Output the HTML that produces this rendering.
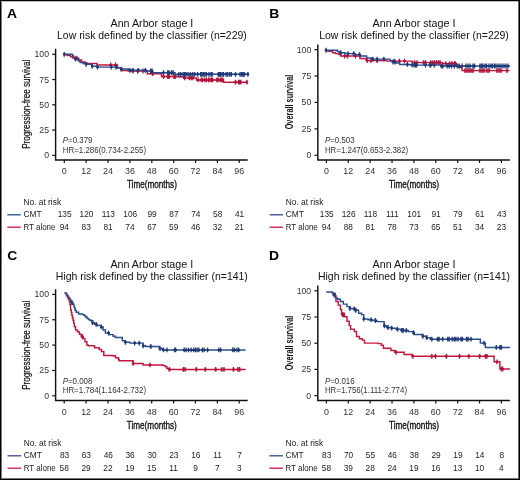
<!DOCTYPE html>
<html><head><meta charset="utf-8"><style>
html,body{margin:0;padding:0;background:#fff;}
#w{position:relative;width:520px;height:480px;overflow:hidden;background:#fff;}
svg{will-change:transform;position:absolute;left:0;top:0;font-family:"Liberation Sans", sans-serif;}
</style></head><body><div id="w">
<svg width="520" height="480" viewBox="0 0 520 480">
<rect x="0" y="0" width="520" height="480" fill="#fff"/>
<text transform="translate(7.00,18.00) scale(1.14,1)" font-size="12.2" text-anchor="start" font-weight="bold" fill="#000" >A</text>
<text transform="translate(151.90,26.60) scale(0.985,1)" font-size="10.9" text-anchor="middle" font-weight="normal" fill="#111" >Ann Arbor stage I</text>
<text transform="translate(151.90,38.80) scale(0.96,1)" font-size="10.9" text-anchor="middle" font-weight="normal" fill="#111" >Low risk defined by the classifier (n=229)</text>
<path d="M55.60,48.70V160.00H247.70" fill="none" stroke="#111" stroke-width="1.45"/>
<path d="M52.20,155.30H55.60" stroke="#111" stroke-width="1.2"/>
<text x="49.00" y="158.30" font-size="8.7" text-anchor="end" font-weight="normal" fill="#333" >0</text>
<path d="M52.20,130.05H55.60" stroke="#111" stroke-width="1.2"/>
<text x="49.00" y="133.05" font-size="8.7" text-anchor="end" font-weight="normal" fill="#333" >25</text>
<path d="M52.20,104.80H55.60" stroke="#111" stroke-width="1.2"/>
<text x="49.00" y="107.80" font-size="8.7" text-anchor="end" font-weight="normal" fill="#333" >50</text>
<path d="M52.20,79.55H55.60" stroke="#111" stroke-width="1.2"/>
<text x="49.00" y="82.55" font-size="8.7" text-anchor="end" font-weight="normal" fill="#333" >75</text>
<path d="M52.20,54.30H55.60" stroke="#111" stroke-width="1.2"/>
<text x="49.00" y="57.30" font-size="8.7" text-anchor="end" font-weight="normal" fill="#333" >100</text>
<path d="M64.30,160.00V163.00" stroke="#111" stroke-width="1.2"/>
<text x="64.30" y="174.10" font-size="8.9" text-anchor="middle" font-weight="normal" fill="#333" >0</text>
<path d="M86.18,160.00V163.00" stroke="#111" stroke-width="1.2"/>
<text x="86.18" y="174.10" font-size="8.9" text-anchor="middle" font-weight="normal" fill="#333" >12</text>
<path d="M108.05,160.00V163.00" stroke="#111" stroke-width="1.2"/>
<text x="108.05" y="174.10" font-size="8.9" text-anchor="middle" font-weight="normal" fill="#333" >24</text>
<path d="M129.93,160.00V163.00" stroke="#111" stroke-width="1.2"/>
<text x="129.93" y="174.10" font-size="8.9" text-anchor="middle" font-weight="normal" fill="#333" >36</text>
<path d="M151.80,160.00V163.00" stroke="#111" stroke-width="1.2"/>
<text x="151.80" y="174.10" font-size="8.9" text-anchor="middle" font-weight="normal" fill="#333" >48</text>
<path d="M173.68,160.00V163.00" stroke="#111" stroke-width="1.2"/>
<text x="173.68" y="174.10" font-size="8.9" text-anchor="middle" font-weight="normal" fill="#333" >60</text>
<path d="M195.56,160.00V163.00" stroke="#111" stroke-width="1.2"/>
<text x="195.56" y="174.10" font-size="8.9" text-anchor="middle" font-weight="normal" fill="#333" >72</text>
<path d="M217.43,160.00V163.00" stroke="#111" stroke-width="1.2"/>
<text x="217.43" y="174.10" font-size="8.9" text-anchor="middle" font-weight="normal" fill="#333" >84</text>
<path d="M239.31,160.00V163.00" stroke="#111" stroke-width="1.2"/>
<text x="239.31" y="174.10" font-size="8.9" text-anchor="middle" font-weight="normal" fill="#333" >96</text>
<text x="151.90" y="187.80" font-size="10.5" text-anchor="middle" font-weight="normal" fill="#111" textLength="50" lengthAdjust="spacingAndGlyphs" stroke="#111" stroke-width="0.35">Time(months)</text>
<text transform="translate(30.20,104.25) rotate(-90)" x="0" y="0" font-size="10.0" text-anchor="middle" fill="#111" stroke="#111" stroke-width="0.22" textLength="89" lengthAdjust="spacingAndGlyphs">Progression-free survival</text>
<text transform="translate(62.80,143.10) scale(0.9,1)" font-size="8.8" fill="#333"><tspan font-style="italic">P</tspan>=0.379</text>
<text transform="translate(62.80,152.50) scale(0.9,1)" font-size="8.8" text-anchor="start" font-weight="normal" fill="#333" >HR=1.286(0.734-2.255)</text>
<text x="23.40" y="204.70" font-size="8.4" text-anchor="start" font-weight="normal" fill="#222" >No. at risk</text>
<text x="23.40" y="217.20" font-size="8.4" text-anchor="start" font-weight="normal" fill="#222" >CMT</text>
<text transform="translate(23.40,229.70) scale(0.95,1)" font-size="8.4" text-anchor="start" font-weight="normal" fill="#222" >RT alone</text>
<path d="M7.30,214.80H20.80" stroke="#2c4c8a" stroke-width="1.3"/>
<path d="M7.30,227.20H20.80" stroke="#c2183e" stroke-width="1.3"/>
<text x="64.60" y="217.20" font-size="8.3" text-anchor="middle" font-weight="normal" fill="#222" >135</text>
<text x="64.30" y="229.70" font-size="8.3" text-anchor="middle" font-weight="normal" fill="#222" >94</text>
<text x="86.48" y="217.20" font-size="8.3" text-anchor="middle" font-weight="normal" fill="#222" >120</text>
<text x="86.18" y="229.70" font-size="8.3" text-anchor="middle" font-weight="normal" fill="#222" >83</text>
<text x="108.35" y="217.20" font-size="8.3" text-anchor="middle" font-weight="normal" fill="#222" >113</text>
<text x="108.05" y="229.70" font-size="8.3" text-anchor="middle" font-weight="normal" fill="#222" >81</text>
<text x="130.23" y="217.20" font-size="8.3" text-anchor="middle" font-weight="normal" fill="#222" >106</text>
<text x="129.93" y="229.70" font-size="8.3" text-anchor="middle" font-weight="normal" fill="#222" >74</text>
<text x="152.10" y="217.20" font-size="8.3" text-anchor="middle" font-weight="normal" fill="#222" >99</text>
<text x="151.80" y="229.70" font-size="8.3" text-anchor="middle" font-weight="normal" fill="#222" >67</text>
<text x="173.98" y="217.20" font-size="8.3" text-anchor="middle" font-weight="normal" fill="#222" >87</text>
<text x="173.68" y="229.70" font-size="8.3" text-anchor="middle" font-weight="normal" fill="#222" >59</text>
<text x="195.86" y="217.20" font-size="8.3" text-anchor="middle" font-weight="normal" fill="#222" >74</text>
<text x="195.56" y="229.70" font-size="8.3" text-anchor="middle" font-weight="normal" fill="#222" >46</text>
<text x="217.73" y="217.20" font-size="8.3" text-anchor="middle" font-weight="normal" fill="#222" >58</text>
<text x="217.43" y="229.70" font-size="8.3" text-anchor="middle" font-weight="normal" fill="#222" >32</text>
<text x="239.61" y="217.20" font-size="8.3" text-anchor="middle" font-weight="normal" fill="#222" >41</text>
<text x="239.31" y="229.70" font-size="8.3" text-anchor="middle" font-weight="normal" fill="#222" >21</text>
<text transform="translate(269.30,18.00) scale(1.14,1)" font-size="12.2" text-anchor="start" font-weight="bold" fill="#000" >B</text>
<text transform="translate(414.00,26.60) scale(0.985,1)" font-size="10.9" text-anchor="middle" font-weight="normal" fill="#111" >Ann Arbor stage I</text>
<text transform="translate(414.00,38.80) scale(0.96,1)" font-size="10.9" text-anchor="middle" font-weight="normal" fill="#111" >Low risk defined by the classifier (n=229)</text>
<path d="M317.85,44.50V160.00H509.90" fill="none" stroke="#111" stroke-width="1.45"/>
<path d="M314.45,155.30H317.85" stroke="#111" stroke-width="1.2"/>
<text x="311.25" y="158.30" font-size="8.7" text-anchor="end" font-weight="normal" fill="#333" >0</text>
<path d="M314.45,128.88H317.85" stroke="#111" stroke-width="1.2"/>
<text x="311.25" y="131.88" font-size="8.7" text-anchor="end" font-weight="normal" fill="#333" >25</text>
<path d="M314.45,102.45H317.85" stroke="#111" stroke-width="1.2"/>
<text x="311.25" y="105.45" font-size="8.7" text-anchor="end" font-weight="normal" fill="#333" >50</text>
<path d="M314.45,76.03H317.85" stroke="#111" stroke-width="1.2"/>
<text x="311.25" y="79.03" font-size="8.7" text-anchor="end" font-weight="normal" fill="#333" >75</text>
<path d="M314.45,49.60H317.85" stroke="#111" stroke-width="1.2"/>
<text x="311.25" y="52.60" font-size="8.7" text-anchor="end" font-weight="normal" fill="#333" >100</text>
<path d="M326.40,160.00V163.00" stroke="#111" stroke-width="1.2"/>
<text x="326.40" y="174.10" font-size="8.9" text-anchor="middle" font-weight="normal" fill="#333" >0</text>
<path d="M348.28,160.00V163.00" stroke="#111" stroke-width="1.2"/>
<text x="348.28" y="174.10" font-size="8.9" text-anchor="middle" font-weight="normal" fill="#333" >12</text>
<path d="M370.15,160.00V163.00" stroke="#111" stroke-width="1.2"/>
<text x="370.15" y="174.10" font-size="8.9" text-anchor="middle" font-weight="normal" fill="#333" >24</text>
<path d="M392.03,160.00V163.00" stroke="#111" stroke-width="1.2"/>
<text x="392.03" y="174.10" font-size="8.9" text-anchor="middle" font-weight="normal" fill="#333" >36</text>
<path d="M413.90,160.00V163.00" stroke="#111" stroke-width="1.2"/>
<text x="413.90" y="174.10" font-size="8.9" text-anchor="middle" font-weight="normal" fill="#333" >48</text>
<path d="M435.78,160.00V163.00" stroke="#111" stroke-width="1.2"/>
<text x="435.78" y="174.10" font-size="8.9" text-anchor="middle" font-weight="normal" fill="#333" >60</text>
<path d="M457.66,160.00V163.00" stroke="#111" stroke-width="1.2"/>
<text x="457.66" y="174.10" font-size="8.9" text-anchor="middle" font-weight="normal" fill="#333" >72</text>
<path d="M479.53,160.00V163.00" stroke="#111" stroke-width="1.2"/>
<text x="479.53" y="174.10" font-size="8.9" text-anchor="middle" font-weight="normal" fill="#333" >84</text>
<path d="M501.41,160.00V163.00" stroke="#111" stroke-width="1.2"/>
<text x="501.41" y="174.10" font-size="8.9" text-anchor="middle" font-weight="normal" fill="#333" >96</text>
<text x="414.00" y="187.80" font-size="10.5" text-anchor="middle" font-weight="normal" fill="#111" textLength="50" lengthAdjust="spacingAndGlyphs" stroke="#111" stroke-width="0.35">Time(months)</text>
<text transform="translate(292.80,102.00) rotate(-90)" x="0" y="0" font-size="10.2" font-weight="bold" text-anchor="middle" fill="#111" textLength="54.7" lengthAdjust="spacingAndGlyphs">Overall survival</text>
<text transform="translate(324.90,143.10) scale(0.9,1)" font-size="8.8" fill="#333"><tspan font-style="italic">P</tspan>=0.503</text>
<text transform="translate(324.90,152.50) scale(0.9,1)" font-size="8.8" text-anchor="start" font-weight="normal" fill="#333" >HR=1.247(0.653-2.382)</text>
<text x="285.70" y="204.70" font-size="8.4" text-anchor="start" font-weight="normal" fill="#222" >No. at risk</text>
<text x="285.70" y="217.20" font-size="8.4" text-anchor="start" font-weight="normal" fill="#222" >CMT</text>
<text transform="translate(285.70,229.70) scale(0.95,1)" font-size="8.4" text-anchor="start" font-weight="normal" fill="#222" >RT alone</text>
<path d="M269.60,214.80H283.10" stroke="#2c4c8a" stroke-width="1.3"/>
<path d="M269.60,227.20H283.10" stroke="#c2183e" stroke-width="1.3"/>
<text x="326.70" y="217.20" font-size="8.3" text-anchor="middle" font-weight="normal" fill="#222" >135</text>
<text x="326.40" y="229.70" font-size="8.3" text-anchor="middle" font-weight="normal" fill="#222" >94</text>
<text x="348.58" y="217.20" font-size="8.3" text-anchor="middle" font-weight="normal" fill="#222" >126</text>
<text x="348.28" y="229.70" font-size="8.3" text-anchor="middle" font-weight="normal" fill="#222" >88</text>
<text x="370.45" y="217.20" font-size="8.3" text-anchor="middle" font-weight="normal" fill="#222" >118</text>
<text x="370.15" y="229.70" font-size="8.3" text-anchor="middle" font-weight="normal" fill="#222" >81</text>
<text x="392.33" y="217.20" font-size="8.3" text-anchor="middle" font-weight="normal" fill="#222" >111</text>
<text x="392.03" y="229.70" font-size="8.3" text-anchor="middle" font-weight="normal" fill="#222" >78</text>
<text x="414.20" y="217.20" font-size="8.3" text-anchor="middle" font-weight="normal" fill="#222" >101</text>
<text x="413.90" y="229.70" font-size="8.3" text-anchor="middle" font-weight="normal" fill="#222" >73</text>
<text x="436.08" y="217.20" font-size="8.3" text-anchor="middle" font-weight="normal" fill="#222" >91</text>
<text x="435.78" y="229.70" font-size="8.3" text-anchor="middle" font-weight="normal" fill="#222" >65</text>
<text x="457.96" y="217.20" font-size="8.3" text-anchor="middle" font-weight="normal" fill="#222" >79</text>
<text x="457.66" y="229.70" font-size="8.3" text-anchor="middle" font-weight="normal" fill="#222" >51</text>
<text x="479.83" y="217.20" font-size="8.3" text-anchor="middle" font-weight="normal" fill="#222" >61</text>
<text x="479.53" y="229.70" font-size="8.3" text-anchor="middle" font-weight="normal" fill="#222" >34</text>
<text x="501.71" y="217.20" font-size="8.3" text-anchor="middle" font-weight="normal" fill="#222" >43</text>
<text x="501.41" y="229.70" font-size="8.3" text-anchor="middle" font-weight="normal" fill="#222" >23</text>
<text transform="translate(7.30,260.20) scale(1.14,1)" font-size="12.2" text-anchor="start" font-weight="bold" fill="#000" >C</text>
<text transform="translate(151.80,267.60) scale(0.985,1)" font-size="10.9" text-anchor="middle" font-weight="normal" fill="#111" >Ann Arbor stage I</text>
<text transform="translate(151.80,279.80) scale(0.96,1)" font-size="10.9" text-anchor="middle" font-weight="normal" fill="#111" >High risk defined by the classifier (n=141)</text>
<path d="M55.60,289.20V400.50H247.70" fill="none" stroke="#111" stroke-width="1.45"/>
<path d="M52.20,395.80H55.60" stroke="#111" stroke-width="1.2"/>
<text x="49.00" y="398.80" font-size="8.7" text-anchor="end" font-weight="normal" fill="#333" >0</text>
<path d="M52.20,370.45H55.60" stroke="#111" stroke-width="1.2"/>
<text x="49.00" y="373.45" font-size="8.7" text-anchor="end" font-weight="normal" fill="#333" >25</text>
<path d="M52.20,345.10H55.60" stroke="#111" stroke-width="1.2"/>
<text x="49.00" y="348.10" font-size="8.7" text-anchor="end" font-weight="normal" fill="#333" >50</text>
<path d="M52.20,319.75H55.60" stroke="#111" stroke-width="1.2"/>
<text x="49.00" y="322.75" font-size="8.7" text-anchor="end" font-weight="normal" fill="#333" >75</text>
<path d="M52.20,294.40H55.60" stroke="#111" stroke-width="1.2"/>
<text x="49.00" y="297.40" font-size="8.7" text-anchor="end" font-weight="normal" fill="#333" >100</text>
<path d="M64.20,400.50V403.50" stroke="#111" stroke-width="1.2"/>
<text x="64.20" y="414.60" font-size="8.9" text-anchor="middle" font-weight="normal" fill="#333" >0</text>
<path d="M86.08,400.50V403.50" stroke="#111" stroke-width="1.2"/>
<text x="86.08" y="414.60" font-size="8.9" text-anchor="middle" font-weight="normal" fill="#333" >12</text>
<path d="M107.95,400.50V403.50" stroke="#111" stroke-width="1.2"/>
<text x="107.95" y="414.60" font-size="8.9" text-anchor="middle" font-weight="normal" fill="#333" >24</text>
<path d="M129.83,400.50V403.50" stroke="#111" stroke-width="1.2"/>
<text x="129.83" y="414.60" font-size="8.9" text-anchor="middle" font-weight="normal" fill="#333" >36</text>
<path d="M151.70,400.50V403.50" stroke="#111" stroke-width="1.2"/>
<text x="151.70" y="414.60" font-size="8.9" text-anchor="middle" font-weight="normal" fill="#333" >48</text>
<path d="M173.58,400.50V403.50" stroke="#111" stroke-width="1.2"/>
<text x="173.58" y="414.60" font-size="8.9" text-anchor="middle" font-weight="normal" fill="#333" >60</text>
<path d="M195.46,400.50V403.50" stroke="#111" stroke-width="1.2"/>
<text x="195.46" y="414.60" font-size="8.9" text-anchor="middle" font-weight="normal" fill="#333" >72</text>
<path d="M217.33,400.50V403.50" stroke="#111" stroke-width="1.2"/>
<text x="217.33" y="414.60" font-size="8.9" text-anchor="middle" font-weight="normal" fill="#333" >84</text>
<path d="M239.21,400.50V403.50" stroke="#111" stroke-width="1.2"/>
<text x="239.21" y="414.60" font-size="8.9" text-anchor="middle" font-weight="normal" fill="#333" >96</text>
<text x="151.80" y="428.80" font-size="10.5" text-anchor="middle" font-weight="normal" fill="#111" textLength="50" lengthAdjust="spacingAndGlyphs" stroke="#111" stroke-width="0.35">Time(months)</text>
<text transform="translate(30.20,345.25) rotate(-90)" x="0" y="0" font-size="10.0" text-anchor="middle" fill="#111" stroke="#111" stroke-width="0.22" textLength="89" lengthAdjust="spacingAndGlyphs">Progression-free survival</text>
<text transform="translate(62.70,383.50) scale(0.9,1)" font-size="8.8" fill="#333"><tspan font-style="italic">P</tspan>=0.008</text>
<text transform="translate(62.70,392.90) scale(0.9,1)" font-size="8.8" text-anchor="start" font-weight="normal" fill="#333" >HR=1.784(1.164-2.732)</text>
<text x="23.70" y="445.70" font-size="8.4" text-anchor="start" font-weight="normal" fill="#222" >No. at risk</text>
<text x="23.70" y="458.20" font-size="8.4" text-anchor="start" font-weight="normal" fill="#222" >CMT</text>
<text transform="translate(23.70,470.70) scale(0.95,1)" font-size="8.4" text-anchor="start" font-weight="normal" fill="#222" >RT alone</text>
<path d="M7.60,455.80H21.10" stroke="#2c4c8a" stroke-width="1.3"/>
<path d="M7.60,468.20H21.10" stroke="#c2183e" stroke-width="1.3"/>
<text x="64.50" y="458.20" font-size="8.3" text-anchor="middle" font-weight="normal" fill="#222" >83</text>
<text x="64.20" y="470.70" font-size="8.3" text-anchor="middle" font-weight="normal" fill="#222" >58</text>
<text x="86.38" y="458.20" font-size="8.3" text-anchor="middle" font-weight="normal" fill="#222" >63</text>
<text x="86.08" y="470.70" font-size="8.3" text-anchor="middle" font-weight="normal" fill="#222" >29</text>
<text x="108.25" y="458.20" font-size="8.3" text-anchor="middle" font-weight="normal" fill="#222" >46</text>
<text x="107.95" y="470.70" font-size="8.3" text-anchor="middle" font-weight="normal" fill="#222" >22</text>
<text x="130.13" y="458.20" font-size="8.3" text-anchor="middle" font-weight="normal" fill="#222" >36</text>
<text x="129.83" y="470.70" font-size="8.3" text-anchor="middle" font-weight="normal" fill="#222" >19</text>
<text x="152.00" y="458.20" font-size="8.3" text-anchor="middle" font-weight="normal" fill="#222" >30</text>
<text x="151.70" y="470.70" font-size="8.3" text-anchor="middle" font-weight="normal" fill="#222" >15</text>
<text x="173.88" y="458.20" font-size="8.3" text-anchor="middle" font-weight="normal" fill="#222" >23</text>
<text x="173.58" y="470.70" font-size="8.3" text-anchor="middle" font-weight="normal" fill="#222" >11</text>
<text x="195.76" y="458.20" font-size="8.3" text-anchor="middle" font-weight="normal" fill="#222" >16</text>
<text x="195.46" y="470.70" font-size="8.3" text-anchor="middle" font-weight="normal" fill="#222" >9</text>
<text x="217.63" y="458.20" font-size="8.3" text-anchor="middle" font-weight="normal" fill="#222" >11</text>
<text x="217.33" y="470.70" font-size="8.3" text-anchor="middle" font-weight="normal" fill="#222" >7</text>
<text x="239.51" y="458.20" font-size="8.3" text-anchor="middle" font-weight="normal" fill="#222" >7</text>
<text x="239.21" y="470.70" font-size="8.3" text-anchor="middle" font-weight="normal" fill="#222" >3</text>
<text transform="translate(269.10,260.20) scale(1.14,1)" font-size="12.2" text-anchor="start" font-weight="bold" fill="#000" >D</text>
<text transform="translate(414.00,267.60) scale(0.985,1)" font-size="10.9" text-anchor="middle" font-weight="normal" fill="#111" >Ann Arbor stage I</text>
<text transform="translate(414.00,279.80) scale(0.96,1)" font-size="10.9" text-anchor="middle" font-weight="normal" fill="#111" >High risk defined by the classifier (n=141)</text>
<path d="M317.80,285.40V400.50H509.90" fill="none" stroke="#111" stroke-width="1.45"/>
<path d="M314.40,395.60H317.80" stroke="#111" stroke-width="1.2"/>
<text x="311.20" y="398.60" font-size="8.7" text-anchor="end" font-weight="normal" fill="#333" >0</text>
<path d="M314.40,369.40H317.80" stroke="#111" stroke-width="1.2"/>
<text x="311.20" y="372.40" font-size="8.7" text-anchor="end" font-weight="normal" fill="#333" >25</text>
<path d="M314.40,343.20H317.80" stroke="#111" stroke-width="1.2"/>
<text x="311.20" y="346.20" font-size="8.7" text-anchor="end" font-weight="normal" fill="#333" >50</text>
<path d="M314.40,317.00H317.80" stroke="#111" stroke-width="1.2"/>
<text x="311.20" y="320.00" font-size="8.7" text-anchor="end" font-weight="normal" fill="#333" >75</text>
<path d="M314.40,290.80H317.80" stroke="#111" stroke-width="1.2"/>
<text x="311.20" y="293.80" font-size="8.7" text-anchor="end" font-weight="normal" fill="#333" >100</text>
<path d="M326.40,400.50V403.50" stroke="#111" stroke-width="1.2"/>
<text x="326.40" y="414.60" font-size="8.9" text-anchor="middle" font-weight="normal" fill="#333" >0</text>
<path d="M348.28,400.50V403.50" stroke="#111" stroke-width="1.2"/>
<text x="348.28" y="414.60" font-size="8.9" text-anchor="middle" font-weight="normal" fill="#333" >12</text>
<path d="M370.15,400.50V403.50" stroke="#111" stroke-width="1.2"/>
<text x="370.15" y="414.60" font-size="8.9" text-anchor="middle" font-weight="normal" fill="#333" >24</text>
<path d="M392.03,400.50V403.50" stroke="#111" stroke-width="1.2"/>
<text x="392.03" y="414.60" font-size="8.9" text-anchor="middle" font-weight="normal" fill="#333" >36</text>
<path d="M413.90,400.50V403.50" stroke="#111" stroke-width="1.2"/>
<text x="413.90" y="414.60" font-size="8.9" text-anchor="middle" font-weight="normal" fill="#333" >48</text>
<path d="M435.78,400.50V403.50" stroke="#111" stroke-width="1.2"/>
<text x="435.78" y="414.60" font-size="8.9" text-anchor="middle" font-weight="normal" fill="#333" >60</text>
<path d="M457.66,400.50V403.50" stroke="#111" stroke-width="1.2"/>
<text x="457.66" y="414.60" font-size="8.9" text-anchor="middle" font-weight="normal" fill="#333" >72</text>
<path d="M479.53,400.50V403.50" stroke="#111" stroke-width="1.2"/>
<text x="479.53" y="414.60" font-size="8.9" text-anchor="middle" font-weight="normal" fill="#333" >84</text>
<path d="M501.41,400.50V403.50" stroke="#111" stroke-width="1.2"/>
<text x="501.41" y="414.60" font-size="8.9" text-anchor="middle" font-weight="normal" fill="#333" >96</text>
<text x="414.00" y="428.80" font-size="10.5" text-anchor="middle" font-weight="normal" fill="#111" textLength="50" lengthAdjust="spacingAndGlyphs" stroke="#111" stroke-width="0.35">Time(months)</text>
<text transform="translate(292.80,343.00) rotate(-90)" x="0" y="0" font-size="10.2" font-weight="bold" text-anchor="middle" fill="#111" textLength="54.7" lengthAdjust="spacingAndGlyphs">Overall survival</text>
<text transform="translate(324.90,383.50) scale(0.9,1)" font-size="8.8" fill="#333"><tspan font-style="italic">P</tspan>=0.016</text>
<text transform="translate(324.90,392.90) scale(0.9,1)" font-size="8.8" text-anchor="start" font-weight="normal" fill="#333" >HR=1.756(1.111-2.774)</text>
<text x="285.50" y="445.70" font-size="8.4" text-anchor="start" font-weight="normal" fill="#222" >No. at risk</text>
<text x="285.50" y="458.20" font-size="8.4" text-anchor="start" font-weight="normal" fill="#222" >CMT</text>
<text transform="translate(285.50,470.70) scale(0.95,1)" font-size="8.4" text-anchor="start" font-weight="normal" fill="#222" >RT alone</text>
<path d="M269.40,455.80H282.90" stroke="#2c4c8a" stroke-width="1.3"/>
<path d="M269.40,468.20H282.90" stroke="#c2183e" stroke-width="1.3"/>
<text x="326.70" y="458.20" font-size="8.3" text-anchor="middle" font-weight="normal" fill="#222" >83</text>
<text x="326.40" y="470.70" font-size="8.3" text-anchor="middle" font-weight="normal" fill="#222" >58</text>
<text x="348.58" y="458.20" font-size="8.3" text-anchor="middle" font-weight="normal" fill="#222" >70</text>
<text x="348.28" y="470.70" font-size="8.3" text-anchor="middle" font-weight="normal" fill="#222" >39</text>
<text x="370.45" y="458.20" font-size="8.3" text-anchor="middle" font-weight="normal" fill="#222" >55</text>
<text x="370.15" y="470.70" font-size="8.3" text-anchor="middle" font-weight="normal" fill="#222" >28</text>
<text x="392.33" y="458.20" font-size="8.3" text-anchor="middle" font-weight="normal" fill="#222" >46</text>
<text x="392.03" y="470.70" font-size="8.3" text-anchor="middle" font-weight="normal" fill="#222" >24</text>
<text x="414.20" y="458.20" font-size="8.3" text-anchor="middle" font-weight="normal" fill="#222" >38</text>
<text x="413.90" y="470.70" font-size="8.3" text-anchor="middle" font-weight="normal" fill="#222" >19</text>
<text x="436.08" y="458.20" font-size="8.3" text-anchor="middle" font-weight="normal" fill="#222" >29</text>
<text x="435.78" y="470.70" font-size="8.3" text-anchor="middle" font-weight="normal" fill="#222" >16</text>
<text x="457.96" y="458.20" font-size="8.3" text-anchor="middle" font-weight="normal" fill="#222" >19</text>
<text x="457.66" y="470.70" font-size="8.3" text-anchor="middle" font-weight="normal" fill="#222" >13</text>
<text x="479.83" y="458.20" font-size="8.3" text-anchor="middle" font-weight="normal" fill="#222" >14</text>
<text x="479.53" y="470.70" font-size="8.3" text-anchor="middle" font-weight="normal" fill="#222" >10</text>
<text x="501.71" y="458.20" font-size="8.3" text-anchor="middle" font-weight="normal" fill="#222" >8</text>
<text x="501.41" y="470.70" font-size="8.3" text-anchor="middle" font-weight="normal" fill="#222" >4</text>
<path d="M63.80,54.70H67.20V55.50H70.60V56.70H72.50V58.10H78.75V60.00H81.60V62.00H85.00V62.90H86.90V63.50H97.00V64.90H117.50V67.60H120.90V70.50H128.10V71.00H147.30V73.70H161.50V76.50H178.80V77.00H183.65V77.90H196.50V79.90H223.30V82.20H247.40" fill="none" stroke="#c2183e" stroke-width="1.45" stroke-linejoin="miter"/>
<path d="M76.80,55.70V60.50M110.80,62.50V67.30M115.60,62.50V67.30M132.90,68.60V73.40M137.70,68.60V73.40M143.00,68.60V73.40M152.60,71.30V76.10M163.50,74.10V78.90M167.80,74.10V78.90M169.20,74.10V78.90M174.00,74.10V78.90M175.50,74.10V78.90M184.60,75.50V80.30M189.40,75.50V80.30M191.30,75.50V80.30M192.80,75.50V80.30M198.10,77.50V82.30M201.20,77.50V82.30M202.70,77.50V82.30M204.80,77.50V82.30M206.40,77.50V82.30M208.50,77.50V82.30M210.00,77.50V82.30M211.60,77.50V82.30M212.60,77.50V82.30M216.80,77.50V82.30M218.30,77.50V82.30M220.40,77.50V82.30M221.40,77.50V82.30M223.00,77.50V82.30M235.50,79.80V84.60M238.60,79.80V84.60M239.60,79.80V84.60M240.70,79.80V84.60M246.90,79.80V84.60" stroke="#b3103a" stroke-width="1.3"/>
<path d="M75.50,58.10H78.10M109.50,64.90H112.10M114.30,64.90H116.90M131.60,71.00H134.20M136.40,71.00H139.00M141.70,71.00H144.30M151.30,73.70H153.90M162.20,76.50H164.80M166.50,76.50H169.10M167.90,76.50H170.50M172.70,76.50H175.30M174.20,76.50H176.80M183.30,77.90H185.90M188.10,77.90H190.70M190.00,77.90H192.60M191.50,77.90H194.10M196.80,79.90H199.40M199.90,79.90H202.50M201.40,79.90H204.00M203.50,79.90H206.10M205.10,79.90H207.70M207.20,79.90H209.80M208.70,79.90H211.30M210.30,79.90H212.90M211.30,79.90H213.90M215.50,79.90H218.10M217.00,79.90H219.60M219.10,79.90H221.70M220.10,79.90H222.70M221.70,79.90H224.30M234.20,82.20H236.80M237.30,82.20H239.90M238.30,82.20H240.90M239.40,82.20H242.00M245.60,82.20H248.20" stroke="#b3103a" stroke-width="2.0"/>
<path d="M63.80,54.30H72.50V55.80H73.50V57.10H75.40V59.10H77.80V60.00H79.00V61.20H80.20V62.40H83.10V63.40H86.00V64.30H91.70V66.30H96.50V67.10H116.50V68.10H120.90V69.05H128.60V70.30H146.30V71.00H152.40V72.65H175.00V74.30H248.50" fill="none" stroke="#2c4c8a" stroke-width="1.45" stroke-linejoin="miter"/>
<path d="M64.20,51.90V56.70M75.40,56.70V61.50M86.00,61.90V66.70M92.20,63.90V68.70M97.50,64.70V69.50M111.25,64.70V69.50M116.00,64.70V69.50M121.50,66.65V71.45M130.00,67.90V72.70M132.90,67.90V72.70M138.20,67.90V72.70M145.40,67.90V72.70M150.70,68.60V73.40M152.10,68.60V73.40M163.50,70.25V75.05M167.80,70.25V75.05M169.20,70.25V75.05M171.60,70.25V75.05M173.10,70.25V75.05M178.80,71.90V76.70M180.80,71.90V76.70M183.20,71.90V76.70M184.60,71.90V76.70M186.00,71.90V76.70M188.00,71.90V76.70M190.40,71.90V76.70M192.80,71.90V76.70M194.70,71.90V76.70M197.60,71.90V76.70M200.70,71.90V76.70M201.70,71.90V76.70M203.30,71.90V76.70M204.80,71.90V76.70M206.40,71.90V76.70M209.00,71.90V76.70M211.10,71.90V76.70M212.10,71.90V76.70M218.30,71.90V76.70M219.40,71.90V76.70M220.40,71.90V76.70M222.00,71.90V76.70M223.50,71.90V76.70M226.10,71.90V76.70M227.70,71.90V76.70M229.70,71.90V76.70M231.30,71.90V76.70M235.50,71.90V76.70M240.10,71.90V76.70M241.70,71.90V76.70M243.20,71.90V76.70M244.30,71.90V76.70M247.90,71.90V76.70" stroke="#1f3a78" stroke-width="1.3"/>
<path d="M62.90,54.30H65.50M74.10,59.10H76.70M84.70,64.30H87.30M90.90,66.30H93.50M96.20,67.10H98.80M109.95,67.10H112.55M114.70,67.10H117.30M120.20,69.05H122.80M128.70,70.30H131.30M131.60,70.30H134.20M136.90,70.30H139.50M144.10,70.30H146.70M149.40,71.00H152.00M150.80,71.00H153.40M162.20,72.65H164.80M166.50,72.65H169.10M167.90,72.65H170.50M170.30,72.65H172.90M171.80,72.65H174.40M177.50,74.30H180.10M179.50,74.30H182.10M181.90,74.30H184.50M183.30,74.30H185.90M184.70,74.30H187.30M186.70,74.30H189.30M189.10,74.30H191.70M191.50,74.30H194.10M193.40,74.30H196.00M196.30,74.30H198.90M199.40,74.30H202.00M200.40,74.30H203.00M202.00,74.30H204.60M203.50,74.30H206.10M205.10,74.30H207.70M207.70,74.30H210.30M209.80,74.30H212.40M210.80,74.30H213.40M217.00,74.30H219.60M218.10,74.30H220.70M219.10,74.30H221.70M220.70,74.30H223.30M222.20,74.30H224.80M224.80,74.30H227.40M226.40,74.30H229.00M228.40,74.30H231.00M230.00,74.30H232.60M234.20,74.30H236.80M238.80,74.30H241.40M240.40,74.30H243.00M241.90,74.30H244.50M243.00,74.30H245.60M246.60,74.30H249.20" stroke="#1f3a78" stroke-width="2.0"/>
<path d="M325.40,50.70H328.25V51.30H332.60V52.65H335.50V53.60H338.80V54.60H340.75V56.00H360.00V58.40H366.20V60.60H387.20V61.10H412.20V62.60H442.80V63.60H456.50V65.20H459.00V67.50H462.00V70.60H509.50" fill="none" stroke="#c2183e" stroke-width="1.45" stroke-linejoin="miter"/>
<path d="M344.60,53.60V58.40M347.50,53.60V58.40M355.50,53.60V58.40M367.20,58.20V63.00M370.90,58.20V63.00M377.10,58.20V63.00M394.40,58.70V63.50M399.30,58.70V63.50M404.50,58.70V63.50M414.60,60.20V65.00M417.00,60.20V65.00M423.60,60.20V65.00M425.50,60.20V65.00M430.80,60.20V65.00M432.75,60.20V65.00M434.70,60.20V65.00M436.60,60.20V65.00M438.50,60.20V65.00M440.00,60.20V65.00M445.70,61.20V66.00M449.60,61.20V66.00M452.00,61.20V66.00M454.40,61.20V66.00M455.30,61.20V66.00M465.00,68.20V73.00M467.00,68.20V73.00M469.00,68.20V73.00M471.00,68.20V73.00M473.00,68.20V73.00M480.00,68.20V73.00M482.00,68.20V73.00M484.00,68.20V73.00M487.00,68.20V73.00M489.00,68.20V73.00M497.00,68.20V73.00M499.00,68.20V73.00M501.00,68.20V73.00M507.00,68.20V73.00" stroke="#b3103a" stroke-width="1.3"/>
<path d="M343.30,56.00H345.90M346.20,56.00H348.80M354.20,56.00H356.80M365.90,60.60H368.50M369.60,60.60H372.20M375.80,60.60H378.40M393.10,61.10H395.70M398.00,61.10H400.60M403.20,61.10H405.80M413.30,62.60H415.90M415.70,62.60H418.30M422.30,62.60H424.90M424.20,62.60H426.80M429.50,62.60H432.10M431.45,62.60H434.05M433.40,62.60H436.00M435.30,62.60H437.90M437.20,62.60H439.80M438.70,62.60H441.30M444.40,63.60H447.00M448.30,63.60H450.90M450.70,63.60H453.30M453.10,63.60H455.70M454.00,63.60H456.60M463.70,70.60H466.30M465.70,70.60H468.30M467.70,70.60H470.30M469.70,70.60H472.30M471.70,70.60H474.30M478.70,70.60H481.30M480.70,70.60H483.30M482.70,70.60H485.30M485.70,70.60H488.30M487.70,70.60H490.30M495.70,70.60H498.30M497.70,70.60H500.30M499.70,70.60H502.30M505.70,70.60H508.30" stroke="#b3103a" stroke-width="2.0"/>
<path d="M325.40,50.25H337.40V51.50H339.30V52.65H345.00V53.60H355.20V54.60H360.50V56.00H366.70V58.00H372.30V59.10H390.10V60.60H392.50V62.00H395.90V63.00H399.70V64.40H410.40V65.10H441.00V66.00H510.00" fill="none" stroke="#2c4c8a" stroke-width="1.45" stroke-linejoin="miter"/>
<path d="M326.00,47.85V52.65M340.75,50.25V55.05M348.00,51.20V56.00M353.70,51.20V56.00M359.50,52.20V57.00M372.80,56.70V61.50M377.10,56.70V61.50M383.90,56.70V61.50M393.00,59.60V64.40M394.90,59.60V64.40M407.40,62.00V66.80M412.20,62.70V67.50M414.20,62.70V67.50M415.60,62.70V67.50M416.60,62.70V67.50M425.50,62.70V67.50M429.90,62.70V67.50M430.80,62.70V67.50M434.20,62.70V67.50M441.40,63.60V68.40M442.80,63.60V68.40M447.20,63.60V68.40M449.10,63.60V68.40M451.50,63.60V68.40M454.40,63.60V68.40M457.30,63.60V68.40M459.20,63.60V68.40M462.10,63.60V68.40M466.00,63.60V68.40M468.00,63.60V68.40M470.00,63.60V68.40M473.00,63.60V68.40M474.50,63.60V68.40M480.00,63.60V68.40M481.50,63.60V68.40M483.00,63.60V68.40M485.00,63.60V68.40M486.50,63.60V68.40M489.00,63.60V68.40M491.00,63.60V68.40M492.50,63.60V68.40M494.50,63.60V68.40M496.00,63.60V68.40M498.00,63.60V68.40M500.00,63.60V68.40M502.00,63.60V68.40M504.00,63.60V68.40M506.00,63.60V68.40M508.00,63.60V68.40" stroke="#1f3a78" stroke-width="1.3"/>
<path d="M324.70,50.25H327.30M339.45,52.65H342.05M346.70,53.60H349.30M352.40,53.60H355.00M358.20,54.60H360.80M371.50,59.10H374.10M375.80,59.10H378.40M382.60,59.10H385.20M391.70,62.00H394.30M393.60,62.00H396.20M406.10,64.40H408.70M410.90,65.10H413.50M412.90,65.10H415.50M414.30,65.10H416.90M415.30,65.10H417.90M424.20,65.10H426.80M428.60,65.10H431.20M429.50,65.10H432.10M432.90,65.10H435.50M440.10,66.00H442.70M441.50,66.00H444.10M445.90,66.00H448.50M447.80,66.00H450.40M450.20,66.00H452.80M453.10,66.00H455.70M456.00,66.00H458.60M457.90,66.00H460.50M460.80,66.00H463.40M464.70,66.00H467.30M466.70,66.00H469.30M468.70,66.00H471.30M471.70,66.00H474.30M473.20,66.00H475.80M478.70,66.00H481.30M480.20,66.00H482.80M481.70,66.00H484.30M483.70,66.00H486.30M485.20,66.00H487.80M487.70,66.00H490.30M489.70,66.00H492.30M491.20,66.00H493.80M493.20,66.00H495.80M494.70,66.00H497.30M496.70,66.00H499.30M498.70,66.00H501.30M500.70,66.00H503.30M502.70,66.00H505.30M504.70,66.00H507.30M506.70,66.00H509.30" stroke="#1f3a78" stroke-width="2.0"/>
<path d="M65.60,293.50H66.50V295.50H67.50V297.40H68.50V299.50H69.40V301.75H70.00V305.00H70.60V309.90H71.30V312.50H71.90V315.50H72.50V318.00H73.10V320.50H73.80V323.50H74.40V326.75H75.60V329.90H77.50V331.75H79.40V334.25H81.25V336.75H83.10V338.60H85.00V341.75H86.90V344.90H88.10V345.80H94.60V347.70H99.20V349.50H101.50V351.50H103.80V355.40H112.30V355.70H115.40V357.70H118.50V359.70H119.20V360.80H133.10V363.40H143.10V364.90H163.10V365.60H165.40V366.70H166.90V368.40H168.70V369.40H245.60" fill="none" stroke="#c2183e" stroke-width="1.45" stroke-linejoin="miter"/>
<path d="M82.50,334.35V339.15M133.10,361.00V365.80M150.00,362.50V367.30M169.50,367.00V371.80M183.40,367.00V371.80M185.10,367.00V371.80M196.30,367.00V371.80M205.30,367.00V371.80M215.70,367.00V371.80M221.90,367.00V371.80M224.00,367.00V371.80M233.50,367.00V371.80M237.90,367.00V371.80M239.60,367.00V371.80" stroke="#b3103a" stroke-width="1.3"/>
<path d="M81.20,336.75H83.80M131.80,363.40H134.40M148.70,364.90H151.30M168.20,369.40H170.80M182.10,369.40H184.70M183.80,369.40H186.40M195.00,369.40H197.60M204.00,369.40H206.60M214.40,369.40H217.00M220.60,369.40H223.20M222.70,369.40H225.30M232.20,369.40H234.80M236.60,369.40H239.20M238.30,369.40H240.90" stroke="#b3103a" stroke-width="2.0"/>
<path d="M64.20,293.00H66.30V294.50H67.50V296.20H68.60V297.70H69.60V299.30H70.70V301.00H71.70V302.70H72.80V304.20H74.00V306.50H74.60V308.50H75.20V310.40H76.30V312.30H78.60V314.00H82.50V314.60H84.00V315.40H85.50V316.90H87.10V318.50H88.60V319.60H90.00V320.50H92.50V322.60H94.40V324.30H96.90V325.40H100.80V326.90H103.10V330.00H105.40V333.10H109.20V334.60H113.10V336.20H115.40V337.40H122.30V340.80H125.40V342.30H130.00V343.10H143.10V345.80H145.40V346.50H159.20V348.50H162.30V349.90H245.60" fill="none" stroke="#2c4c8a" stroke-width="1.45" stroke-linejoin="miter"/>
<path d="M71.90,300.30V305.10M92.50,320.20V325.00M96.20,321.90V326.70M101.30,324.50V329.30M108.50,330.70V335.50M125.40,339.90V344.70M134.60,340.70V345.50M139.20,340.70V345.50M143.10,343.40V348.20M150.80,344.10V348.90M160.00,346.10V350.90M163.50,347.50V352.30M166.90,347.50V352.30M174.70,347.50V352.30M175.60,347.50V352.30M184.20,347.50V352.30M186.00,347.50V352.30M188.50,347.50V352.30M191.10,347.50V352.30M193.70,347.50V352.30M195.50,347.50V352.30M197.20,347.50V352.30M198.90,347.50V352.30M202.40,347.50V352.30M204.10,347.50V352.30M207.60,347.50V352.30M218.80,347.50V352.30M220.60,347.50V352.30M232.70,347.50V352.30M234.40,347.50V352.30M237.00,347.50V352.30M238.70,347.50V352.30" stroke="#1f3a78" stroke-width="1.3"/>
<path d="M70.60,302.70H73.20M91.20,322.60H93.80M94.90,324.30H97.50M100.00,326.90H102.60M107.20,333.10H109.80M124.10,342.30H126.70M133.30,343.10H135.90M137.90,343.10H140.50M141.80,345.80H144.40M149.50,346.50H152.10M158.70,348.50H161.30M162.20,349.90H164.80M165.60,349.90H168.20M173.40,349.90H176.00M174.30,349.90H176.90M182.90,349.90H185.50M184.70,349.90H187.30M187.20,349.90H189.80M189.80,349.90H192.40M192.40,349.90H195.00M194.20,349.90H196.80M195.90,349.90H198.50M197.60,349.90H200.20M201.10,349.90H203.70M202.80,349.90H205.40M206.30,349.90H208.90M217.50,349.90H220.10M219.30,349.90H221.90M231.40,349.90H234.00M233.10,349.90H235.70M235.70,349.90H238.30M237.40,349.90H240.00" stroke="#1f3a78" stroke-width="2.0"/>
<path d="M333.90,293.50H335.30V295.70H336.00V301.50H338.20V305.10H340.40V309.50H341.60V314.60H344.10V316.80H347.00V321.20H349.20V325.60H350.60V329.20H354.30V331.40H356.50V336.50H359.40V338.70H362.30V340.10H364.50V343.10H378.30V343.60H381.25V345.25H383.40V348.20H390.90V350.50H394.60V352.30H404.10V354.50H412.10V356.30H494.10V361.80H499.90V369.00H510.00" fill="none" stroke="#c2183e" stroke-width="1.45" stroke-linejoin="miter"/>
<path d="M342.60,312.20V317.00M344.00,312.20V317.00M396.00,349.90V354.70M412.80,353.90V358.70M431.80,353.90V358.70M435.40,353.90V358.70M446.40,353.90V358.70M459.50,353.90V358.70M468.80,353.90V358.70M479.70,353.90V358.70M485.40,353.90V358.70M486.90,353.90V358.70M497.00,359.40V364.20M501.30,366.60V371.40M502.70,366.60V371.40" stroke="#b3103a" stroke-width="1.3"/>
<path d="M341.30,314.60H343.90M342.70,314.60H345.30M394.70,352.30H397.30M411.50,356.30H414.10M430.50,356.30H433.10M434.10,356.30H436.70M445.10,356.30H447.70M458.20,356.30H460.80M467.50,356.30H470.10M478.40,356.30H481.00M484.10,356.30H486.70M485.60,356.30H488.20M495.70,361.80H498.30M500.00,369.00H502.60M501.40,369.00H504.00" stroke="#b3103a" stroke-width="2.0"/>
<path d="M326.10,292.00H332.40V293.50H333.90V294.90H335.30V297.90H337.50V299.30H340.40V301.50H343.30V304.10H347.00V306.60H349.90V308.50H352.80V308.80H355.70V310.25H358.60V313.20H361.60V314.60H363.75V319.00H368.10V319.70H372.50V320.50H376.90V321.60H384.10V325.75H386.60V327.50H391.70V328.20H396.00V329.25H401.10V330.40H408.40V331.60H412.80V332.60H414.30V334.50H422.30V336.25H426.70V337.70H430.30V339.20H480.40V343.10H485.40V347.40H510.00" fill="none" stroke="#2c4c8a" stroke-width="1.45" stroke-linejoin="miter"/>
<path d="M333.90,292.50V297.30M349.90,306.10V310.90M354.30,306.40V311.20M355.70,307.85V312.65M363.75,316.60V321.40M371.00,317.30V322.10M375.40,318.10V322.90M384.40,323.35V328.15M388.00,325.10V329.90M391.70,325.80V330.60M397.50,326.85V331.65M401.90,328.00V332.80M403.30,328.00V332.80M406.25,328.00V332.80M413.50,330.20V335.00M423.00,333.85V338.65M426.70,335.30V340.10M431.80,336.80V341.60M437.60,336.80V341.60M439.10,336.80V341.60M442.70,336.80V341.60M447.80,336.80V341.60M449.30,336.80V341.60M452.30,336.80V341.60M454.40,336.80V341.60M455.90,336.80V341.60M458.00,336.80V341.60M460.90,336.80V341.60M462.40,336.80V341.60M466.70,336.80V341.60M468.10,336.80V341.60M471.00,336.80V341.60M484.00,340.70V345.50M496.30,345.00V349.80M499.90,345.00V349.80M501.30,345.00V349.80" stroke="#1f3a78" stroke-width="1.3"/>
<path d="M332.60,294.90H335.20M348.60,308.50H351.20M353.00,308.80H355.60M354.40,310.25H357.00M362.45,319.00H365.05M369.70,319.70H372.30M374.10,320.50H376.70M383.10,325.75H385.70M386.70,327.50H389.30M390.40,328.20H393.00M396.20,329.25H398.80M400.60,330.40H403.20M402.00,330.40H404.60M404.95,330.40H407.55M412.20,332.60H414.80M421.70,336.25H424.30M425.40,337.70H428.00M430.50,339.20H433.10M436.30,339.20H438.90M437.80,339.20H440.40M441.40,339.20H444.00M446.50,339.20H449.10M448.00,339.20H450.60M451.00,339.20H453.60M453.10,339.20H455.70M454.60,339.20H457.20M456.70,339.20H459.30M459.60,339.20H462.20M461.10,339.20H463.70M465.40,339.20H468.00M466.80,339.20H469.40M469.70,339.20H472.30M482.70,343.10H485.30M495.00,347.40H497.60M498.60,347.40H501.20M500.00,347.40H502.60" stroke="#1f3a78" stroke-width="2.0"/>
<rect x="1" y="1" width="1" height="478" fill="#7a7a7a"/>
<rect x="1" y="1" width="518" height="1" fill="#bbb"/>
<rect x="518" y="1" width="1" height="478" fill="#666"/>
<rect x="1" y="478" width="518" height="1" fill="#777"/>
<rect x="0.5" y="0.5" width="519" height="479" fill="none" stroke="#000" stroke-width="1"/>
</svg></div></body></html>
